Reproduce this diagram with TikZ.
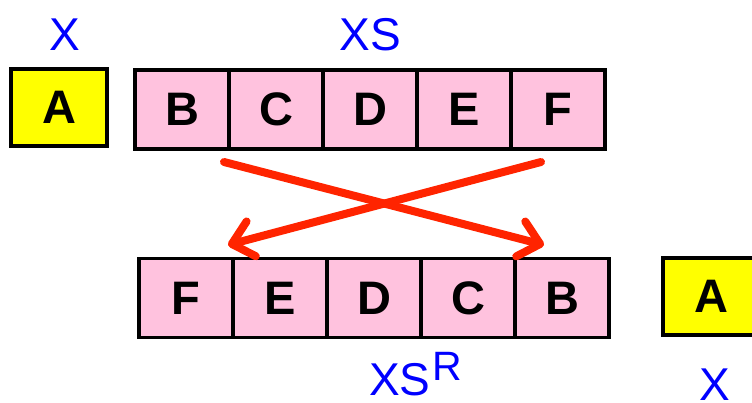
\documentclass[tikz,border=0pt]{standalone}
\usepackage{fontspec}
\setmainfont{Liberation Sans}
\usetikzlibrary{arrows.meta}
\definecolor{cellpink}{RGB}{255,194,222}
\definecolor{headyellow}{RGB}{255,255,0}
\definecolor{swapred}{RGB}{255,36,0}
\definecolor{labelblue}{RGB}{0,0,255}
\tikzset{
  cell/.style={draw=black, line width=3.5pt, fill=cellpink, minimum width=94pt,
    minimum height=79pt, inner sep=0pt, font=\fontsize{47}{47}\selectfont\bfseries},
  headcell/.style={cell, fill=headyellow, minimum width=96pt, minimum height=77pt},
  varlabel/.style={text=labelblue, font=\fontsize{46}{46}\selectfont, inner sep=0pt},
  swap/.style={draw=swapred, line width=8pt, line cap=round,
    -{Straight Barb[length=20pt, width=36pt, line cap=round, line join=round]}}
}
\begin{document}
\begin{tikzpicture}[x=1pt, y=1pt]
\useasboundingbox (0,0) rectangle (752,403);
% head of the list
\node[headcell] (a1) at (59,295.5) {A};
\node[varlabel] (x1) at (65,368) {X};
% tail before
\foreach \l [count=\i] in {B,C,D,E,F}
  \node[cell] (t\i) at ({135+47+94*(\i-1)},293.5) {\l};
\node[varlabel] (xs) at (370,368) {XS};
% reversed tail
\foreach \l [count=\i] in {F,E,D,C,B}
  \node[cell] (r\i) at ({139+47+94*(\i-1)},105) {\l};
\node[varlabel, anchor=base west] (xsr) at (369,7)
  {XS\kern2pt\raisebox{15pt}{\fontsize{41}{41}\selectfont R}};
% head moved to the end
\node[headcell] (a2) at (711,106.5) {A};
\node[varlabel] (x2) at (715,18) {X};
% crossing arrows
\coordinate (s1) at (224,241);
\coordinate (e1) at (544,158);
\coordinate (s2) at (541,241);
\coordinate (e2) at (228,158);
\draw[swap] (s1) -- (e1);
\draw[swap] (s2) -- (e2);
\end{tikzpicture}
\end{document}
